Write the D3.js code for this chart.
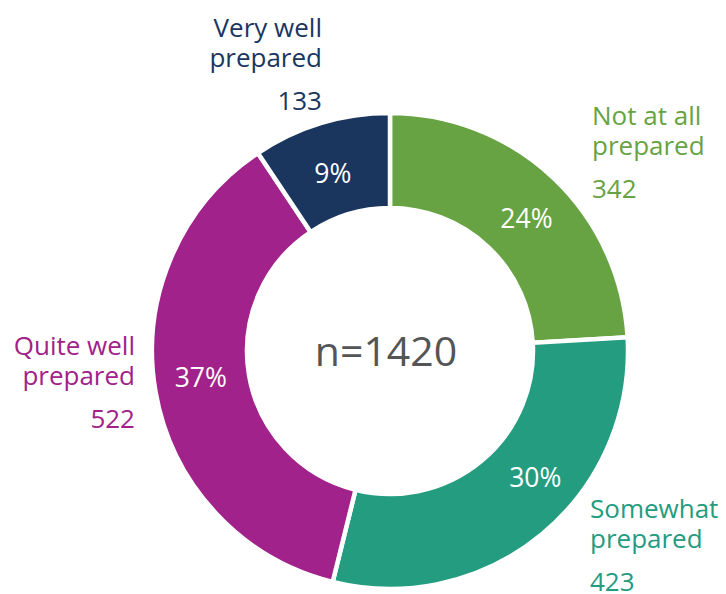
<!DOCTYPE html>
<html>
<head>
<meta charset="utf-8">
<script src="https://cdn.jsdelivr.net/npm/d3@7"></script>
<style>
  html, body { margin: 0; padding: 0; background: #fff; }
  svg text { font-family: "Open Sans", "Noto Sans", sans-serif; }
</style>
</head>
<body>
<svg id="chart" width="726" height="594"></svg>
<script>
// Survey responses: how prepared respondents felt
const categories = ["Not at all prepared", "Somewhat prepared", "Quite well prepared", "Very well prepared"];
const labelLines = [["Not at all", "prepared"], ["Somewhat", "prepared"], ["Quite well", "prepared"], ["Very well", "prepared"]];
const counts = [342, 423, 522, 133];
const percentLabels = ["24%", "30%", "37%", "9%"];
const colors = ["#67a343", "#239c80", "#a0228a", "#1a365f"];
const total = d3.sum(counts);

const svg = d3.select("#chart");
const cx = 390, cy = 351;
const g = svg.append("g").attr("transform", `translate(${cx},${cy})`);

const pie = d3.pie().sort(null).value(d => d)(counts);
const arc = d3.arc().innerRadius(143).outerRadius(238);
const labelArc = d3.arc().innerRadius(190).outerRadius(190);
// small hand adjustments so the percentages sit clear of the ring edges
const pctNudge = [[6, 6], [24, -20], [-2, -6], [-2, 4]];

g.selectAll("path.slice")
  .data(pie)
  .join("path")
  .attr("class", "slice")
  .attr("d", arc)
  .attr("fill", (d, i) => colors[i])
  .attr("stroke", "#fff")
  .attr("stroke-width", 4.5)
  .attr("stroke-linejoin", "miter");

// Percentages inside the ring
g.selectAll("text.pct")
  .data(pie)
  .join("text")
  .attr("class", "pct")
  .attr("transform", (d, i) => {
    const c = labelArc.centroid(d);
    return `translate(${c[0] + pctNudge[i][0]},${c[1] + pctNudge[i][1]})`;
  })
  .attr("text-anchor", "middle")
  .attr("dy", "0.36em")
  .attr("fill", "#fff")
  .attr("font-size", 26.5)
  .text((d, i) => percentLabels[i]);

// Total in the centre
g.append("text")
  .attr("x", -4)
  .attr("text-anchor", "middle")
  .attr("dy", "0.36em")
  .attr("fill", "#555")
  .attr("font-size", 41)
  .text("n=" + total);

// Category labels outside the ring
const outside = [
  { x: 592, y: 125, anchor: "start" },
  { x: 590, y: 518, anchor: "start" },
  { x: 135, y: 355, anchor: "end" },
  { x: 322, y: 37,  anchor: "end" }
];
outside.forEach((p, i) => {
  labelLines[i].forEach((line, j) => {
    svg.append("text")
      .attr("x", p.x).attr("y", p.y + j * 29.5)
      .attr("text-anchor", p.anchor)
      .attr("fill", colors[i])
      .attr("font-size", 26)
      .text(line);
  });
  svg.append("text")
    .attr("x", p.x).attr("y", p.y + 29.5 + 43)
    .attr("text-anchor", p.anchor)
    .attr("fill", colors[i])
    .attr("font-size", 26)
    .text(counts[i]);
});
</script>
</body>
</html>
